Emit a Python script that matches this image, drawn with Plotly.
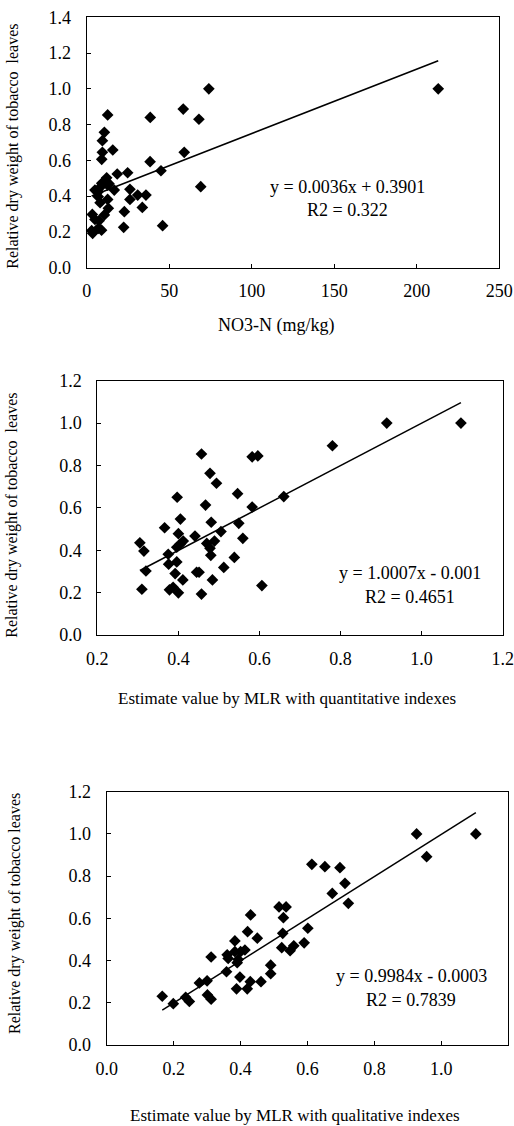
import plotly.graph_objects as go

W, H = 514, 1126

# ---------------- data ----------------
# Panel 1: NO3-N (mg/kg) vs relative dry weight
no3_x = [74, 213, 58.5, 68, 38.5, 12.7, 10.7, 9.5, 15.8, 9.5, 9.1, 38.4, 59.1, 45, 69.1,
         46, 18.5, 24.8, 12.1, 11.1, 9.1, 12.7, 8.1, 16.7, 5, 7, 26.2, 30.9, 35.9, 26.2,
         12.7, 7, 8.1, 33.7, 13.1, 22.8, 10.7, 3.4, 5, 7.5, 22.4, 3, 7, 3.6, 9, 13.5]
no3_y = [1.00, 1.00, 0.887, 0.83, 0.84, 0.854, 0.757, 0.71, 0.658, 0.645, 0.606, 0.593, 0.645, 0.542, 0.453,
         0.235, 0.524, 0.531, 0.503, 0.485, 0.472, 0.462, 0.449, 0.434, 0.434, 0.425, 0.438, 0.406, 0.406, 0.382,
         0.382, 0.397, 0.363, 0.337, 0.332, 0.313, 0.295, 0.298, 0.27, 0.263, 0.226, 0.207, 0.22, 0.192, 0.21, 0.47]
fit1 = (0.0036, 0.3901)

# Panel 2: MLR with quantitative indexes
quant_x = [1.097, 0.914, 0.78, 0.66, 0.582, 0.596, 0.457, 0.478, 0.494, 0.546, 0.582, 0.467,
           0.397, 0.405, 0.366, 0.40, 0.441, 0.481, 0.505, 0.549, 0.559, 0.412, 0.404, 0.396,
           0.47, 0.489, 0.478, 0.48, 0.375, 0.376, 0.396, 0.538, 0.512, 0.305, 0.315, 0.32,
           0.392, 0.445, 0.451, 0.411, 0.484, 0.606, 0.31, 0.378, 0.387, 0.40, 0.457]
quant_y = [1.00, 1.00, 0.893, 0.653, 0.841, 0.845, 0.854, 0.763, 0.716, 0.667, 0.604, 0.613,
           0.65, 0.547, 0.506, 0.478, 0.467, 0.532, 0.488, 0.527, 0.456, 0.443, 0.428, 0.414,
           0.432, 0.443, 0.409, 0.376, 0.381, 0.334, 0.345, 0.366, 0.319, 0.435, 0.396, 0.302,
           0.29, 0.296, 0.296, 0.26, 0.26, 0.233, 0.216, 0.213, 0.225, 0.199, 0.193]
fit2 = (1.0007, -0.001)

# Panel 3: MLR with qualitative indexes
qual_x = [1.103, 0.926, 0.956, 0.613, 0.652, 0.697, 0.712, 0.674, 0.722, 0.515, 0.536, 0.528,
          0.601, 0.526, 0.59, 0.523, 0.548, 0.559, 0.43, 0.421, 0.45, 0.383, 0.312, 0.36,
          0.363, 0.383, 0.40, 0.413, 0.393, 0.39, 0.358, 0.398, 0.429, 0.461, 0.49, 0.49,
          0.388, 0.42, 0.277, 0.30, 0.301, 0.312, 0.166, 0.199, 0.236, 0.247]
qual_y = [1.00, 1.00, 0.892, 0.856, 0.845, 0.84, 0.766, 0.718, 0.671, 0.654, 0.654, 0.603,
          0.553, 0.529, 0.484, 0.461, 0.447, 0.47, 0.616, 0.537, 0.506, 0.493, 0.417, 0.427,
          0.41, 0.442, 0.442, 0.45, 0.405, 0.39, 0.347, 0.322, 0.30, 0.30, 0.378, 0.338,
          0.266, 0.266, 0.294, 0.304, 0.237, 0.217, 0.231, 0.196, 0.226, 0.206]
fit3 = (0.9984, -0.0003)

eq_texts = [("y = 0.0036x + 0.3901", "R2 = 0.322"),
            ("y = 1.0007x - 0.001", "R2 = 0.4651"),
            ("y = 0.9984x - 0.0003", "R2 = 0.7839")]
x_titles = ["NO3-N (mg/kg)",
            "Estimate value by MLR with quantitative indexes",
            "Estimate value by MLR with qualitative indexes"]
y_titles = ["Relative dry weight of tobacco\u00a0 leaves",
            "Relative dry weight of tobacco\u00a0 leaves",
            "Relative dry weight of tobacco leaves"]
x_ranges = [[0, 250], [0.2, 1.2], [0, 1.2]]
y_ranges = [[0, 1.4], [0, 1.2], [0, 1.2]]
x_dticks = [50, 0.2, 0.2]
x_formats = ["d", ".1f", ".1f"]

# ---------------- layout (pixel geometry) ----------------
FONT = "Liberation Serif"
panels = [
    dict(x0=86.7, x1=499.3, yt=17.3, yb=267.7,
         ytitle_x=13, ytitle_y=146.7, xtitle_x=276, xtitle_y=325, xtitle_size=18,
         eq_x=347, eq_y1=187, eq_y2=210),
    dict(x0=97.3, x1=502.7, yt=380.7, yb=635,
         ytitle_x=12, ytitle_y=515.7, xtitle_x=287, xtitle_y=698, xtitle_size=17,
         eq_x=410, eq_y1=573, eq_y2=597),
    dict(x0=106.7, x1=508.3, yt=791.7, yb=1045,
         ytitle_x=15, ytitle_y=914, xtitle_x=295, xtitle_y=1115, xtitle_size=17,
         eq_x=411, eq_y1=976, eq_y2=1000),
]

def px_x(p):
    return p / W

def px_y(p):
    return 1 - p / H

fig = go.Figure()
datasets = [(no3_x, no3_y, fit1), (quant_x, quant_y, fit2), (qual_x, qual_y, fit3)]
annotations = []
for i, ((xs, ys, (m, b)), pn) in enumerate(zip(datasets, panels)):
    n = "" if i == 0 else str(i + 1)
    xa, ya = "x" + n, "y" + n
    fig.add_trace(go.Scatter(x=xs, y=ys, mode="markers", xaxis=xa, yaxis=ya,
                             marker=dict(symbol="diamond", size=9, color="black"),
                             showlegend=False, cliponaxis=False))
    xmin, xmax = min(xs), max(xs)
    fig.add_trace(go.Scatter(x=[xmin, xmax], y=[m * xmin + b, m * xmax + b], mode="lines",
                             xaxis=xa, yaxis=ya, line=dict(color="black", width=1.5),
                             showlegend=False))
    axcommon = dict(showline=True, linecolor="black", linewidth=1, mirror=True,
                    ticks="inside", ticklen=4, tickcolor="black", showgrid=False,
                    zeroline=False, automargin=False,
                    tickfont=dict(family=FONT, size=18, color="black"))
    fig.update_layout(**{
        ("xaxis" + n): dict(domain=[px_x(pn["x0"]), px_x(pn["x1"])], range=x_ranges[i],
                            dtick=x_dticks[i], tick0=0, tickformat=x_formats[i],
                            anchor=ya, ticklabelstandoff=7, **axcommon),
        ("yaxis" + n): dict(domain=[px_y(pn["yb"]), px_y(pn["yt"])], range=y_ranges[i],
                            dtick=0.2, tick0=0, tickformat=".1f", anchor=xa,
                            ticklabelstandoff=11, **axcommon),
    })
    annotations += [
        dict(text=x_titles[i], x=px_x(pn["xtitle_x"]), y=px_y(pn["xtitle_y"]),
             xref="paper", yref="paper", showarrow=False, xanchor="center", yanchor="middle",
             font=dict(family=FONT, size=pn["xtitle_size"], color="black")),
        dict(text=y_titles[i], x=px_x(pn["ytitle_x"]), y=px_y(pn["ytitle_y"]),
             xref="paper", yref="paper", showarrow=False, xanchor="center", yanchor="middle",
             textangle=-90, font=dict(family=FONT, size=16, color="black")),
        dict(text=eq_texts[i][0], x=px_x(pn["eq_x"]), y=px_y(pn["eq_y1"]),
             xref="paper", yref="paper", showarrow=False, xanchor="center", yanchor="middle",
             font=dict(family=FONT, size=18, color="black")),
        dict(text=eq_texts[i][1], x=px_x(pn["eq_x"]), y=px_y(pn["eq_y2"]),
             xref="paper", yref="paper", showarrow=False, xanchor="center", yanchor="middle",
             font=dict(family=FONT, size=18, color="black")),
    ]

fig.update_layout(width=W, height=H, margin=dict(l=0, r=0, t=0, b=0, pad=0),
                  paper_bgcolor="white", plot_bgcolor="white",
                  font=dict(family=FONT, color="black"),
                  annotations=annotations, showlegend=False)
fig.write_html("out.html", config={"displayModeBar": False},
               post_script="document.body.style.margin='0px';document.body.style.padding='0px';")
